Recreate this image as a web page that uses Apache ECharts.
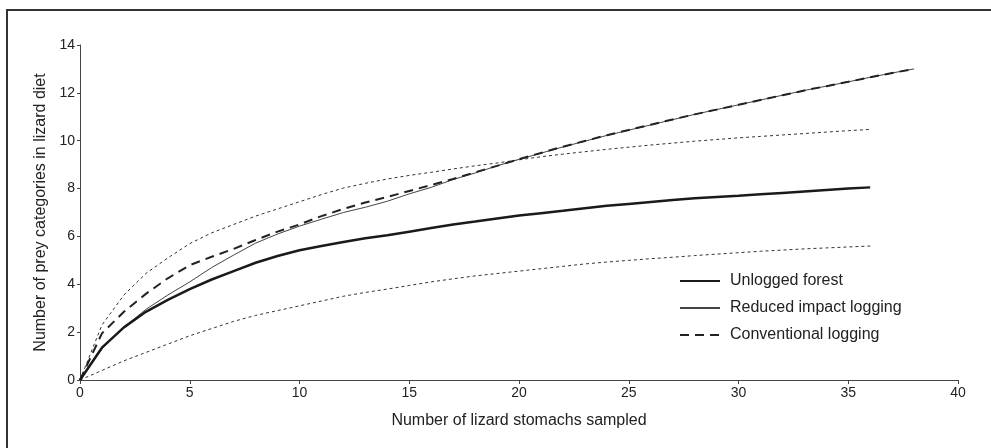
<!DOCTYPE html>
<html>
<head>
<meta charset="utf-8">
<script src="https://cdn.jsdelivr.net/npm/echarts@6/dist/echarts.min.js"></script>
<style>
  html, body { margin: 0; padding: 0; background: #fff; }
  #chart { width: 991px; height: 448px; }
</style>
</head>
<body>
<div id="chart"></div>
<script>
// rarefaction curves, value per number of stomachs sampled (0, 1, 2, ...)
var unlogged = [0, 1.35, 2.2, 2.85, 3.35, 3.8, 4.2, 4.55, 4.9, 5.18, 5.42, 5.6, 5.77, 5.92, 6.05, 6.2,
  6.35, 6.5, 6.62, 6.75, 6.87, 6.97, 7.07, 7.18, 7.28, 7.36, 7.44, 7.52, 7.6, 7.65, 7.7, 7.76,
  7.82, 7.88, 7.94, 8.0, 8.05];
var reduced = [0, 1.3, 2.2, 2.95, 3.55, 4.1, 4.7, 5.22, 5.72, 6.1, 6.43, 6.72, 7.0, 7.22, 7.47, 7.78,
  8.05, 8.38, 8.65, 8.95, 9.22, 9.48, 9.74, 9.98, 10.22, 10.44, 10.66, 10.88, 11.1, 11.3, 11.5,
  11.7, 11.9, 12.1, 12.28, 12.46, 12.65, 12.83, 13.0];
var conventional = [0, 1.95, 2.85, 3.6, 4.25, 4.8, 5.15, 5.48, 5.85, 6.2, 6.5, 6.85, 7.15, 7.42, 7.65,
  7.9, 8.15, 8.4, 8.68, 8.95, 9.23, 9.49, 9.75, 9.99, 10.23, 10.45, 10.67, 10.89, 11.1, 11.3,
  11.5, 11.7, 11.9, 12.1, 12.28, 12.46, 12.65, 12.83, 13.0];
// 95% confidence limits of the unlogged forest curve
var upperCI = [0, 2.3, 3.55, 4.45, 5.1, 5.7, 6.15, 6.5, 6.85, 7.15, 7.45, 7.75, 8.02, 8.22, 8.4, 8.55,
  8.68, 8.82, 8.95, 9.07, 9.2, 9.33, 9.44, 9.54, 9.64, 9.73, 9.82, 9.9, 9.98, 10.05, 10.12,
  10.18, 10.24, 10.3, 10.36, 10.42, 10.47];
var lowerCI = [0, 0.4, 0.8, 1.15, 1.5, 1.85, 2.15, 2.45, 2.7, 2.9, 3.1, 3.3, 3.5, 3.66, 3.8, 3.95,
  4.1, 4.23, 4.35, 4.45, 4.55, 4.65, 4.75, 4.85, 4.93, 5.0, 5.07, 5.13, 5.2, 5.26, 5.32, 5.38,
  5.43, 5.48, 5.52, 5.56, 5.6];

var seriesNames = ["Unlogged forest", "Reduced impact logging", "Conventional logging"];

function pairs(values) {
  return values.map(function (v, i) { return [i, v]; });
}

var chartDom = document.getElementById("chart");
var myChart = echarts.init(chartDom);
var font = "'Liberation Sans', Arial, sans-serif";

var option = {
  animation: false,
  textStyle: { fontFamily: font, color: "#222" },
  graphic: [{
    type: "rect",
    shape: { x: 7, y: 10, width: 1000, height: 460 },
    style: { fill: "none", stroke: "#333", lineWidth: 2 },
    silent: true
  }],
  grid: { left: 80, right: 33, top: 45, bottom: 68 },
  legend: {
    data: seriesNames,
    orient: "vertical",
    left: 674,
    top: 268,
    itemWidth: 40,
    itemHeight: 14,
    itemGap: 11,
    itemStyle: { opacity: 0 },
    textStyle: { fontFamily: font, fontSize: 16, color: "#222", padding: [0, 0, 0, 5] }
  },
  xAxis: {
    type: "value",
    min: 0,
    max: 40,
    interval: 5,
    name: "Number of lizard stomachs sampled",
    nameLocation: "middle",
    nameGap: 33,
    nameTextStyle: { fontFamily: font, fontSize: 16, color: "#222" },
    axisLine: { lineStyle: { color: "#444", width: 1 } },
    axisTick: { length: 4, lineStyle: { color: "#444" } },
    axisLabel: { fontFamily: font, fontSize: 14, color: "#222", margin: 6 },
    splitLine: { show: false }
  },
  yAxis: {
    type: "value",
    min: 0,
    max: 14,
    interval: 2,
    name: "Number of prey categories in lizard diet",
    nameLocation: "middle",
    nameGap: 31,
    nameTextStyle: { fontFamily: font, fontSize: 16, color: "#222" },
    axisLine: { show: true, lineStyle: { color: "#444", width: 1 } },
    axisTick: { show: true, length: 3, lineStyle: { color: "#444" } },
    axisLabel: { fontFamily: font, fontSize: 14, color: "#222", margin: 5 },
    splitLine: { show: false }
  },
  series: [
    {
      name: "Upper CI",
      type: "line",
      data: pairs(upperCI),
      symbol: "none",
      lineStyle: { color: "#333", width: 1, type: [3, 3] },
      z: 1
    },
    {
      name: "Lower CI",
      type: "line",
      data: pairs(lowerCI),
      symbol: "none",
      lineStyle: { color: "#333", width: 1, type: [3, 3] },
      z: 1
    },
    {
      name: seriesNames[1],
      type: "line",
      data: pairs(reduced),
      symbol: "none",
      itemStyle: { color: "#444" },
      lineStyle: { color: "#444", width: 1 },
      z: 2
    },
    {
      name: seriesNames[2],
      type: "line",
      data: pairs(conventional),
      symbol: "none",
      itemStyle: { color: "#222" },
      lineStyle: { color: "#222", width: 2, type: [9, 6] },
      z: 3
    },
    {
      name: seriesNames[0],
      type: "line",
      data: pairs(unlogged),
      symbol: "none",
      itemStyle: { color: "#1a1a1a" },
      lineStyle: { color: "#1a1a1a", width: 2.5 },
      z: 4
    }
  ]
};

option && myChart.setOption(option);
</script>
</body>
</html>
